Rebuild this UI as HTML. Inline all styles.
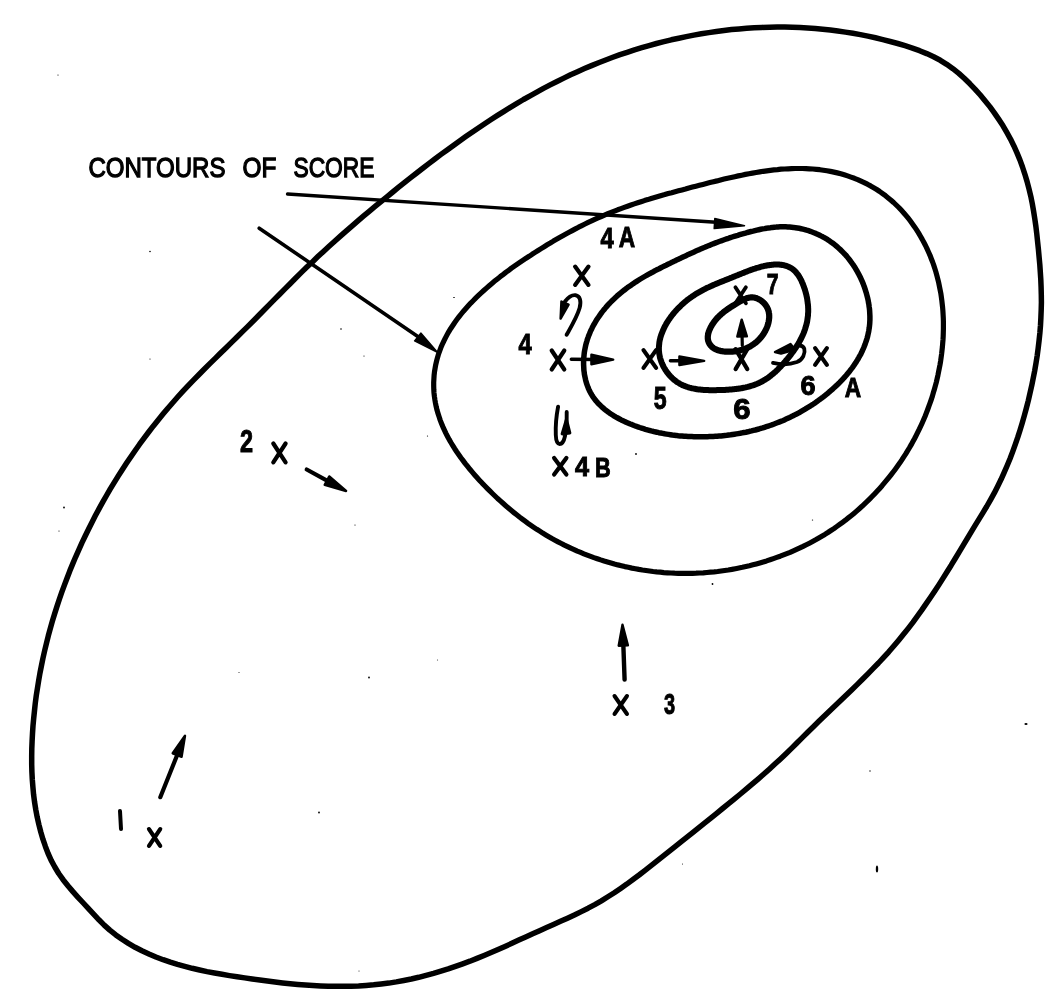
<!DOCTYPE html>
<html><head><meta charset="utf-8"><style>
html,body{margin:0;padding:0;background:#fff;width:1060px;height:1000px;overflow:hidden}
svg{display:block;will-change:transform}
text{font-family:"Liberation Sans",sans-serif;fill:#000}
</style></head><body>
<svg width="1060" height="1000" viewBox="0 0 1060 1000">
<rect width="1060" height="1000" fill="#fff"/>
<g fill="none" stroke="#000" stroke-linecap="round" stroke-linejoin="round">
<path d="M800.0,27.6 L807.6,28.0 L815.2,28.5 L822.7,29.2 L830.3,30.0 L837.8,31.0 L845.4,32.1 L852.9,33.3 L860.4,34.6 L867.9,36.1 L875.4,37.8 L882.8,39.6 L890.2,41.5 L897.7,43.5 L905.0,45.7 L912.4,48.1 L919.6,50.7 L926.7,53.6 L933.6,56.8 L940.3,60.3 L946.7,64.3 L952.9,68.7 L958.8,73.4 L964.5,78.5 L969.9,83.8 L975.2,89.3 L980.3,95.0 L985.2,100.9 L990.0,106.9 L994.5,113.1 L998.8,119.4 L1003.0,125.8 L1006.8,132.4 L1010.5,139.1 L1013.9,145.9 L1017.0,152.9 L1019.9,159.9 L1022.5,167.0 L1024.9,174.3 L1027.1,181.6 L1029.0,188.9 L1030.8,196.3 L1032.3,203.8 L1033.6,211.3 L1034.8,218.9 L1035.9,226.5 L1036.8,234.0 L1037.6,241.7 L1038.4,249.3 L1039.1,256.9 L1039.8,264.5 L1040.3,272.0 L1040.8,279.6 L1041.1,287.2 L1041.3,294.8 L1041.4,302.4 L1041.2,310.0 L1040.9,317.6 L1040.5,325.2 L1039.9,332.8 L1039.1,340.4 L1038.2,348.0 L1037.2,355.6 L1036.0,363.1 L1034.7,370.7 L1033.2,378.2 L1031.7,385.7 L1030.0,393.1 L1028.3,400.6 L1026.4,408.0 L1024.4,415.4 L1022.3,422.7 L1020.1,430.0 L1017.8,437.2 L1015.3,444.4 L1012.7,451.6 L1010.0,458.7 L1007.1,465.7 L1004.1,472.7 L1001.0,479.6 L997.6,486.4 L994.2,493.2 L990.5,499.9 L986.7,506.5 L982.7,513.1 L978.7,519.6 L974.7,526.1 L970.8,532.6 L966.9,539.2 L963.0,545.7 L959.1,552.2 L955.1,558.7 L951.2,565.2 L947.1,571.7 L943.1,578.1 L939.0,584.6 L934.8,591.0 L930.6,597.3 L926.2,603.6 L921.9,609.9 L917.4,616.1 L912.9,622.3 L908.3,628.3 L903.5,634.3 L898.7,640.2 L893.8,646.0 L888.8,651.8 L883.7,657.4 L878.5,663.0 L873.2,668.4 L867.9,673.9 L862.5,679.3 L857.1,684.6 L851.6,689.9 L846.1,695.2 L840.6,700.5 L835.1,705.7 L829.6,711.0 L824.1,716.3 L818.6,721.6 L813.1,726.9 L807.7,732.3 L802.3,737.6 L796.9,743.0 L791.5,748.4 L786.0,753.7 L780.5,758.9 L774.9,764.1 L769.3,769.2 L763.6,774.3 L757.8,779.3 L752.1,784.2 L746.2,789.2 L740.4,794.0 L734.5,798.9 L728.6,803.7 L722.6,808.5 L716.7,813.3 L710.8,818.1 L704.8,822.8 L698.9,827.6 L693.0,832.4 L687.0,837.1 L681.0,841.9 L675.1,846.6 L669.1,851.4 L663.1,856.1 L657.1,860.9 L651.1,865.6 L645.1,870.3 L639.1,875.0 L633.0,879.5 L626.8,884.1 L620.6,888.4 L614.3,892.7 L607.9,896.8 L601.4,900.8 L594.8,904.6 L588.1,908.2 L581.3,911.6 L574.4,915.0 L567.5,918.2 L560.5,921.3 L553.5,924.5 L546.6,927.5 L539.6,930.7 L532.7,933.8 L525.7,936.9 L518.8,940.1 L511.9,943.3 L505.0,946.4 L498.1,949.5 L491.1,952.5 L484.1,955.5 L477.0,958.4 L469.9,961.2 L462.7,963.8 L455.5,966.4 L448.2,968.9 L440.9,971.2 L433.5,973.4 L426.1,975.4 L418.7,977.3 L411.3,979.0 L403.8,980.5 L396.3,981.9 L388.8,983.1 L381.2,984.0 L373.7,984.8 L366.1,985.4 L358.6,985.9 L351.0,986.2 L343.4,986.3 L335.8,986.3 L328.2,986.2 L320.6,985.9 L313.0,985.5 L305.4,985.0 L297.8,984.4 L290.2,983.7 L282.6,982.9 L275.0,982.0 L267.4,981.1 L259.8,980.1 L252.2,979.0 L244.7,977.9 L237.1,976.8 L229.5,975.6 L222.0,974.3 L214.5,973.0 L207.0,971.6 L199.6,970.0 L192.2,968.3 L184.8,966.4 L177.5,964.4 L170.3,962.2 L163.1,959.7 L155.9,957.0 L148.9,954.0 L141.9,950.8 L135.1,947.3 L128.4,943.4 L122.0,939.3 L115.8,934.9 L109.8,930.1 L104.2,925.1 L98.9,919.8 L93.6,914.2 L88.5,908.6 L83.3,903.0 L78.0,897.3 L72.9,891.6 L67.9,885.7 L63.1,879.7 L58.7,873.5 L54.8,867.0 L51.2,860.4 L48.1,853.5 L45.4,846.4 L42.9,839.2 L40.8,832.0 L38.9,824.6 L37.2,817.2 L35.8,809.8 L34.6,802.3 L33.6,794.7 L32.9,787.1 L32.3,779.5 L31.9,771.8 L31.7,764.2 L31.7,756.5 L31.8,748.8 L32.1,741.2 L32.5,733.5 L33.0,725.8 L33.7,718.2 L34.5,710.6 L35.3,703.0 L36.3,695.4 L37.5,687.9 L38.7,680.4 L40.0,672.9 L41.5,665.4 L43.0,658.0 L44.7,650.5 L46.5,643.2 L48.3,635.8 L50.3,628.5 L52.4,621.1 L54.6,613.9 L56.9,606.6 L59.3,599.4 L61.8,592.2 L64.4,585.1 L67.1,578.0 L69.8,570.9 L72.7,563.9 L75.7,556.8 L78.8,549.9 L81.9,542.9 L85.2,536.0 L88.5,529.2 L91.9,522.4 L95.4,515.6 L99.0,508.9 L102.7,502.2 L106.5,495.5 L110.3,488.9 L114.3,482.4 L118.3,475.9 L122.4,469.5 L126.6,463.1 L130.9,456.7 L135.2,450.5 L139.6,444.2 L144.1,438.1 L148.7,432.0 L153.4,425.9 L158.2,420.0 L163.0,414.1 L167.9,408.2 L172.9,402.5 L177.9,396.8 L183.0,391.2 L188.2,385.6 L193.5,380.1 L198.8,374.7 L204.2,369.3 L209.6,363.9 L215.0,358.6 L220.4,353.2 L225.9,347.9 L231.3,342.6 L236.8,337.3 L242.2,331.9 L247.6,326.6 L253.0,321.2 L258.4,315.7 L263.8,310.3 L269.1,304.9 L274.5,299.4 L279.9,294.0 L285.2,288.6 L290.6,283.2 L296.0,277.8 L301.4,272.4 L306.9,267.1 L312.4,261.9 L317.9,256.6 L323.5,251.4 L329.1,246.3 L334.7,241.2 L340.4,236.1 L346.1,231.1 L351.9,226.1 L357.6,221.1 L363.4,216.2 L369.2,211.3 L375.1,206.4 L381.0,201.6 L386.9,196.8 L392.8,192.0 L398.7,187.2 L404.7,182.4 L410.7,177.7 L416.7,173.0 L422.8,168.3 L428.8,163.6 L434.9,159.0 L441.0,154.4 L447.2,149.9 L453.4,145.4 L459.6,141.0 L465.8,136.6 L472.1,132.2 L478.4,127.9 L484.7,123.7 L491.1,119.5 L497.5,115.4 L504.0,111.3 L510.4,107.3 L517.0,103.4 L523.5,99.5 L530.1,95.8 L536.8,92.1 L543.5,88.4 L550.2,84.9 L557.0,81.5 L563.8,78.1 L570.6,74.8 L577.5,71.7 L584.5,68.6 L591.5,65.6 L598.6,62.7 L605.7,60.0 L612.8,57.3 L620.0,54.7 L627.2,52.3 L634.5,49.9 L641.8,47.7 L649.1,45.6 L656.5,43.5 L663.9,41.6 L671.3,39.8 L678.8,38.2 L686.3,36.6 L693.8,35.1 L701.3,33.8 L708.8,32.6 L716.4,31.5 L724.0,30.5 L731.5,29.6 L739.1,28.9 L746.7,28.3 L754.3,27.8 L761.9,27.4 L769.6,27.2 L777.2,27.1 L784.8,27.1 L792.4,27.3 Z" stroke-width="5.5"/>
<path d="M532.1,254.3 L535.1,252.4 L538.1,250.5 L541.1,248.6 L544.2,246.7 L547.2,244.8 L550.3,243.0 L553.4,241.1 L556.5,239.3 L559.6,237.5 L562.8,235.7 L565.9,234.0 L569.1,232.3 L572.2,230.6 L575.4,228.9 L578.6,227.2 L581.8,225.6 L585.0,224.0 L588.2,222.4 L591.5,220.9 L594.7,219.4 L598.0,217.9 L601.2,216.5 L604.5,215.1 L607.8,213.7 L611.1,212.4 L614.4,211.1 L617.7,209.8 L621.0,208.6 L624.3,207.4 L627.6,206.2 L631.0,205.0 L634.3,203.9 L637.7,202.8 L641.0,201.7 L644.4,200.6 L647.8,199.6 L651.2,198.5 L654.6,197.5 L658.0,196.5 L661.4,195.5 L664.8,194.6 L668.2,193.6 L671.7,192.7 L675.1,191.7 L678.5,190.8 L682.0,189.9 L685.5,189.0 L688.9,188.0 L692.4,187.1 L695.9,186.2 L699.4,185.3 L702.9,184.4 L706.4,183.5 L709.9,182.6 L713.5,181.7 L717.0,180.9 L720.5,180.0 L724.1,179.1 L727.6,178.3 L731.2,177.5 L734.7,176.7 L738.3,175.9 L741.8,175.2 L745.4,174.4 L749.0,173.7 L752.5,173.1 L756.1,172.5 L759.7,171.9 L763.2,171.3 L766.8,170.8 L770.4,170.3 L773.9,169.9 L777.5,169.6 L781.0,169.2 L784.6,169.0 L788.2,168.8 L791.7,168.6 L795.2,168.5 L798.8,168.5 L802.3,168.5 L805.9,168.6 L809.4,168.8 L812.9,169.0 L816.4,169.3 L819.9,169.7 L823.4,170.2 L826.9,170.8 L830.4,171.4 L833.9,172.1 L837.3,172.9 L840.8,173.8 L844.2,174.8 L847.6,175.9 L851.0,177.1 L854.4,178.3 L857.7,179.6 L861.0,181.1 L864.2,182.6 L867.4,184.2 L870.6,185.9 L873.7,187.7 L876.7,189.5 L879.7,191.5 L882.6,193.6 L885.5,195.7 L888.2,197.9 L891.0,200.2 L893.6,202.5 L896.2,205.0 L898.8,207.5 L901.2,210.1 L903.6,212.7 L905.9,215.4 L908.2,218.2 L910.4,221.0 L912.5,223.9 L914.6,226.9 L916.6,229.9 L918.5,232.9 L920.3,236.0 L922.1,239.1 L923.8,242.3 L925.5,245.5 L927.0,248.7 L928.5,252.0 L930.0,255.3 L931.3,258.7 L932.6,262.0 L933.8,265.4 L934.9,268.8 L936.0,272.3 L936.9,275.7 L937.8,279.2 L938.7,282.7 L939.4,286.2 L940.1,289.7 L940.8,293.2 L941.3,296.7 L941.8,300.3 L942.2,303.9 L942.6,307.4 L942.9,311.0 L943.1,314.6 L943.3,318.2 L943.4,321.7 L943.4,325.3 L943.4,328.9 L943.3,332.5 L943.2,336.1 L943.0,339.7 L942.7,343.3 L942.4,346.9 L942.0,350.5 L941.6,354.0 L941.1,357.6 L940.6,361.2 L940.0,364.7 L939.3,368.3 L938.6,371.8 L937.9,375.3 L937.1,378.8 L936.3,382.3 L935.4,385.7 L934.4,389.2 L933.4,392.6 L932.4,396.1 L931.3,399.5 L930.1,402.8 L928.9,406.2 L927.7,409.5 L926.4,412.9 L925.1,416.2 L923.7,419.5 L922.3,422.7 L920.8,426.0 L919.3,429.2 L917.7,432.4 L916.1,435.6 L914.5,438.7 L912.8,441.8 L911.1,444.9 L909.3,448.0 L907.4,451.1 L905.6,454.1 L903.6,457.1 L901.7,460.1 L899.7,463.1 L897.6,466.0 L895.5,468.9 L893.4,471.7 L891.2,474.6 L889.0,477.4 L886.7,480.2 L884.4,482.9 L882.1,485.7 L879.7,488.4 L877.3,491.0 L874.8,493.7 L872.3,496.3 L869.8,498.8 L867.2,501.3 L864.6,503.8 L862.0,506.3 L859.3,508.7 L856.6,511.1 L853.9,513.4 L851.1,515.7 L848.3,517.9 L845.5,520.2 L842.6,522.3 L839.7,524.4 L836.8,526.5 L833.9,528.6 L830.9,530.5 L827.9,532.5 L824.9,534.4 L821.8,536.2 L818.8,538.0 L815.7,539.8 L812.6,541.5 L809.4,543.2 L806.3,544.8 L803.1,546.4 L799.9,547.9 L796.6,549.4 L793.4,550.8 L790.1,552.3 L786.8,553.6 L783.5,554.9 L780.2,556.2 L776.8,557.4 L773.4,558.6 L770.0,559.8 L766.6,560.9 L763.2,561.9 L759.8,562.9 L756.3,563.9 L752.9,564.8 L749.4,565.7 L745.9,566.5 L742.4,567.3 L738.9,568.0 L735.4,568.7 L731.8,569.4 L728.3,570.0 L724.7,570.5 L721.2,571.0 L717.6,571.5 L714.1,571.9 L710.5,572.2 L706.9,572.5 L703.3,572.8 L699.7,573.0 L696.1,573.2 L692.6,573.3 L689.0,573.4 L685.4,573.4 L681.8,573.4 L678.2,573.3 L674.6,573.2 L671.0,573.0 L667.4,572.8 L663.8,572.6 L660.3,572.2 L656.7,571.9 L653.1,571.5 L649.5,571.0 L646.0,570.5 L642.4,570.0 L638.9,569.4 L635.4,568.7 L631.9,568.1 L628.3,567.3 L624.8,566.6 L621.4,565.7 L617.9,564.9 L614.4,564.0 L611.0,563.0 L607.5,562.0 L604.1,561.0 L600.7,559.9 L597.3,558.7 L593.9,557.6 L590.6,556.4 L587.2,555.1 L583.9,553.8 L580.6,552.4 L577.3,551.1 L574.1,549.6 L570.8,548.2 L567.6,546.6 L564.4,545.1 L561.3,543.5 L558.1,541.9 L555.0,540.2 L551.9,538.5 L548.8,536.7 L545.8,534.9 L542.7,533.1 L539.8,531.2 L536.8,529.3 L533.8,527.3 L530.9,525.3 L528.0,523.3 L525.1,521.2 L522.3,519.1 L519.5,517.0 L516.7,514.8 L513.9,512.6 L511.1,510.3 L508.4,508.0 L505.7,505.7 L503.0,503.3 L500.3,500.9 L497.6,498.5 L495.0,496.0 L492.4,493.5 L489.8,490.9 L487.2,488.3 L484.7,485.7 L482.1,483.1 L479.6,480.4 L477.2,477.7 L474.7,474.9 L472.3,472.1 L469.9,469.3 L467.6,466.4 L465.3,463.6 L463.1,460.6 L460.9,457.7 L458.8,454.7 L456.7,451.7 L454.7,448.7 L452.8,445.6 L450.9,442.5 L449.1,439.4 L447.4,436.2 L445.8,433.1 L444.3,429.9 L442.8,426.6 L441.5,423.4 L440.2,420.1 L439.1,416.8 L438.0,413.4 L437.0,410.1 L436.2,406.7 L435.5,403.3 L434.9,399.9 L434.4,396.4 L434.0,393.0 L433.8,389.5 L433.7,386.0 L433.7,382.4 L433.9,378.9 L434.1,375.4 L434.5,371.8 L435.1,368.3 L435.7,364.8 L436.5,361.4 L437.4,357.9 L438.4,354.5 L439.6,351.1 L440.8,347.8 L442.2,344.5 L443.7,341.3 L445.3,338.1 L447.0,334.9 L448.7,331.8 L450.6,328.7 L452.6,325.7 L454.6,322.7 L456.7,319.8 L458.9,316.9 L461.2,314.0 L463.5,311.2 L465.9,308.5 L468.3,305.8 L470.8,303.1 L473.4,300.5 L475.9,297.9 L478.5,295.4 L481.2,292.9 L483.8,290.5 L486.5,288.1 L489.2,285.7 L491.9,283.4 L494.7,281.1 L497.4,278.9 L500.2,276.7 L503.0,274.6 L505.8,272.4 L508.7,270.3 L511.5,268.2 L514.4,266.2 L517.3,264.2 L520.2,262.2 L523.2,260.2 L526.1,258.2 L529.1,256.3 Z" stroke-width="5.2"/>
<path d="M710.2,245.1 L712.0,244.3 L713.8,243.6 L715.6,242.9 L717.4,242.2 L719.2,241.5 L721.1,240.9 L722.9,240.2 L724.8,239.5 L726.6,238.9 L728.5,238.3 L730.3,237.6 L732.2,237.0 L734.1,236.4 L736.0,235.8 L737.8,235.3 L739.7,234.7 L741.6,234.1 L743.5,233.6 L745.4,233.1 L747.3,232.5 L749.2,232.0 L751.1,231.5 L753.0,231.1 L755.0,230.6 L756.9,230.1 L758.8,229.7 L760.7,229.3 L762.7,228.9 L764.6,228.6 L766.5,228.2 L768.5,227.9 L770.4,227.7 L772.3,227.4 L774.3,227.2 L776.2,227.1 L778.1,226.9 L780.0,226.8 L782.0,226.8 L783.9,226.8 L785.8,226.8 L787.8,226.9 L789.7,227.0 L791.6,227.2 L793.5,227.4 L795.4,227.7 L797.3,228.0 L799.2,228.3 L801.1,228.7 L802.9,229.1 L804.8,229.6 L806.7,230.2 L808.5,230.7 L810.3,231.3 L812.1,232.0 L813.9,232.7 L815.7,233.4 L817.5,234.2 L819.2,235.0 L820.9,235.9 L822.7,236.8 L824.3,237.7 L826.0,238.7 L827.7,239.7 L829.3,240.8 L830.9,241.9 L832.5,243.0 L834.0,244.2 L835.5,245.4 L837.0,246.7 L838.5,248.0 L840.0,249.3 L841.4,250.7 L842.8,252.1 L844.1,253.5 L845.5,254.9 L846.8,256.4 L848.0,257.9 L849.3,259.5 L850.5,261.1 L851.6,262.7 L852.8,264.3 L853.9,265.9 L855.0,267.6 L856.0,269.3 L857.0,271.0 L858.0,272.8 L858.9,274.5 L859.8,276.3 L860.7,278.1 L861.5,279.9 L862.3,281.7 L863.1,283.6 L863.8,285.4 L864.5,287.3 L865.1,289.2 L865.7,291.1 L866.3,293.0 L866.8,294.9 L867.3,296.8 L867.8,298.7 L868.2,300.6 L868.5,302.6 L868.9,304.5 L869.1,306.4 L869.4,308.4 L869.6,310.3 L869.7,312.2 L869.8,314.2 L869.9,316.1 L869.9,318.0 L869.9,319.9 L869.8,321.8 L869.7,323.8 L869.5,325.7 L869.3,327.5 L869.0,329.4 L868.7,331.3 L868.3,333.1 L867.9,335.0 L867.5,336.8 L867.0,338.6 L866.4,340.5 L865.8,342.2 L865.2,344.0 L864.5,345.8 L863.8,347.6 L863.0,349.3 L862.3,351.0 L861.4,352.8 L860.6,354.5 L859.6,356.1 L858.7,357.8 L857.7,359.5 L856.7,361.1 L855.7,362.8 L854.6,364.4 L853.5,366.0 L852.4,367.6 L851.2,369.1 L850.0,370.7 L848.8,372.2 L847.5,373.8 L846.3,375.3 L845.0,376.8 L843.6,378.2 L842.3,379.7 L840.9,381.1 L839.5,382.6 L838.1,384.0 L836.7,385.4 L835.2,386.7 L833.7,388.1 L832.3,389.4 L830.8,390.7 L829.2,392.0 L827.7,393.3 L826.1,394.6 L824.6,395.8 L823.0,397.1 L821.4,398.3 L819.8,399.4 L818.2,400.6 L816.6,401.8 L815.0,402.9 L813.4,404.0 L811.7,405.1 L810.1,406.2 L808.4,407.2 L806.7,408.2 L805.1,409.2 L803.4,410.2 L801.7,411.2 L800.0,412.2 L798.3,413.1 L796.6,414.0 L794.8,414.9 L793.1,415.8 L791.4,416.6 L789.6,417.5 L787.9,418.3 L786.1,419.1 L784.4,419.9 L782.6,420.7 L780.8,421.4 L779.0,422.1 L777.2,422.8 L775.4,423.5 L773.6,424.2 L771.8,424.9 L770.0,425.5 L768.2,426.1 L766.3,426.7 L764.5,427.3 L762.7,427.9 L760.8,428.4 L759.0,429.0 L757.1,429.5 L755.3,430.0 L753.4,430.4 L751.5,430.9 L749.6,431.3 L747.8,431.8 L745.9,432.2 L744.0,432.5 L742.1,432.9 L740.2,433.3 L738.3,433.6 L736.4,433.9 L734.5,434.2 L732.6,434.5 L730.7,434.8 L728.8,435.0 L726.8,435.3 L724.9,435.5 L723.0,435.7 L721.1,435.9 L719.1,436.0 L717.2,436.2 L715.3,436.3 L713.3,436.4 L711.4,436.5 L709.4,436.6 L707.5,436.7 L705.5,436.7 L703.6,436.8 L701.6,436.8 L699.7,436.8 L697.7,436.8 L695.8,436.7 L693.8,436.7 L691.9,436.6 L689.9,436.5 L688.0,436.4 L686.0,436.3 L684.1,436.2 L682.1,436.0 L680.1,435.9 L678.2,435.7 L676.2,435.4 L674.3,435.2 L672.3,435.0 L670.4,434.7 L668.5,434.4 L666.5,434.1 L664.6,433.8 L662.6,433.4 L660.7,433.0 L658.8,432.7 L656.8,432.2 L654.9,431.8 L653.0,431.3 L651.1,430.9 L649.2,430.3 L647.3,429.8 L645.4,429.3 L643.5,428.7 L641.6,428.1 L639.7,427.5 L637.8,426.8 L635.9,426.2 L634.1,425.5 L632.2,424.7 L630.3,424.0 L628.5,423.2 L626.7,422.4 L624.8,421.6 L623.0,420.7 L621.2,419.9 L619.5,419.0 L617.7,418.0 L616.0,417.1 L614.3,416.1 L612.6,415.0 L611.0,414.0 L609.4,412.9 L607.8,411.7 L606.2,410.6 L604.7,409.4 L603.3,408.2 L601.8,406.9 L600.5,405.6 L599.1,404.3 L597.8,402.9 L596.6,401.5 L595.4,400.1 L594.3,398.6 L593.2,397.1 L592.1,395.5 L591.2,393.9 L590.3,392.3 L589.4,390.6 L588.6,388.9 L587.9,387.1 L587.3,385.4 L586.6,383.6 L586.1,381.7 L585.6,379.9 L585.2,378.0 L584.8,376.1 L584.4,374.2 L584.2,372.3 L583.9,370.3 L583.8,368.4 L583.7,366.4 L583.6,364.5 L583.6,362.5 L583.6,360.5 L583.7,358.5 L583.9,356.6 L584.1,354.6 L584.3,352.6 L584.6,350.7 L585.0,348.8 L585.4,346.8 L585.8,344.9 L586.3,343.0 L586.9,341.1 L587.4,339.3 L588.1,337.4 L588.7,335.6 L589.5,333.8 L590.2,332.0 L591.0,330.2 L591.9,328.4 L592.7,326.7 L593.6,325.0 L594.6,323.3 L595.6,321.6 L596.6,319.9 L597.7,318.3 L598.8,316.7 L599.9,315.1 L601.0,313.5 L602.2,311.9 L603.4,310.4 L604.7,308.9 L605.9,307.4 L607.2,305.9 L608.5,304.4 L609.9,303.0 L611.2,301.6 L612.6,300.2 L614.0,298.9 L615.5,297.5 L616.9,296.2 L618.4,294.9 L619.9,293.6 L621.4,292.4 L622.9,291.2 L624.4,290.0 L625.9,288.8 L627.5,287.6 L629.1,286.5 L630.7,285.4 L632.3,284.3 L633.9,283.2 L635.5,282.1 L637.1,281.1 L638.8,280.0 L640.4,279.0 L642.1,278.0 L643.8,277.0 L645.5,276.0 L647.1,275.1 L648.8,274.1 L650.5,273.2 L652.3,272.3 L654.0,271.3 L655.7,270.4 L657.4,269.5 L659.2,268.7 L660.9,267.8 L662.6,266.9 L664.4,266.0 L666.1,265.2 L667.9,264.3 L669.6,263.5 L671.4,262.6 L673.1,261.8 L674.9,260.9 L676.6,260.1 L678.4,259.3 L680.1,258.4 L681.9,257.6 L683.6,256.8 L685.4,256.0 L687.1,255.1 L688.9,254.3 L690.6,253.5 L692.4,252.7 L694.1,251.9 L695.9,251.1 L697.7,250.3 L699.4,249.6 L701.2,248.8 L703.0,248.0 L704.8,247.3 L706.6,246.5 L708.4,245.8 Z" stroke-width="5.5"/>
<path d="M734.0,276.6 L735.0,276.2 L736.0,275.8 L737.1,275.4 L738.1,275.0 L739.1,274.5 L740.2,274.1 L741.2,273.7 L742.3,273.3 L743.3,272.9 L744.4,272.4 L745.4,272.0 L746.5,271.6 L747.5,271.2 L748.6,270.8 L749.7,270.4 L750.7,270.0 L751.8,269.7 L752.8,269.3 L753.9,268.9 L755.0,268.6 L756.0,268.2 L757.1,267.9 L758.2,267.6 L759.2,267.3 L760.3,267.0 L761.3,266.7 L762.4,266.4 L763.5,266.2 L764.5,265.9 L765.6,265.7 L766.7,265.5 L767.7,265.3 L768.8,265.2 L769.8,265.0 L770.9,264.9 L771.9,264.8 L773.0,264.7 L774.0,264.6 L775.1,264.6 L776.1,264.6 L777.2,264.6 L778.2,264.6 L779.2,264.6 L780.2,264.7 L781.2,264.8 L782.2,265.0 L783.2,265.1 L784.2,265.3 L785.2,265.6 L786.1,265.9 L787.0,266.2 L787.9,266.5 L788.8,266.9 L789.7,267.3 L790.6,267.8 L791.4,268.3 L792.2,268.8 L793.0,269.4 L793.7,270.0 L794.5,270.7 L795.2,271.4 L795.9,272.1 L796.5,272.9 L797.2,273.7 L797.8,274.5 L798.4,275.4 L799.0,276.2 L799.5,277.2 L800.1,278.1 L800.6,279.1 L801.1,280.0 L801.6,281.0 L802.0,282.1 L802.5,283.1 L802.9,284.1 L803.3,285.2 L803.7,286.3 L804.1,287.4 L804.5,288.5 L804.9,289.6 L805.2,290.7 L805.5,291.8 L805.8,292.9 L806.1,294.0 L806.4,295.1 L806.6,296.3 L806.9,297.4 L807.1,298.5 L807.3,299.7 L807.4,300.8 L807.6,301.9 L807.7,303.1 L807.9,304.2 L808.0,305.3 L808.1,306.5 L808.1,307.6 L808.2,308.7 L808.2,309.8 L808.2,310.9 L808.2,312.0 L808.1,313.1 L808.0,314.2 L808.0,315.3 L807.9,316.3 L807.7,317.4 L807.6,318.4 L807.4,319.5 L807.3,320.5 L807.1,321.6 L806.9,322.6 L806.6,323.6 L806.4,324.7 L806.1,325.7 L805.8,326.7 L805.5,327.7 L805.2,328.7 L804.9,329.7 L804.5,330.6 L804.2,331.6 L803.8,332.6 L803.4,333.6 L803.0,334.5 L802.6,335.5 L802.1,336.4 L801.7,337.4 L801.2,338.3 L800.7,339.3 L800.2,340.2 L799.7,341.1 L799.2,342.1 L798.7,343.0 L798.2,343.9 L797.6,344.8 L797.0,345.7 L796.5,346.6 L795.9,347.5 L795.3,348.4 L794.7,349.3 L794.1,350.2 L793.5,351.1 L792.8,352.0 L792.2,352.8 L791.5,353.7 L790.9,354.6 L790.2,355.4 L789.5,356.3 L788.8,357.2 L788.1,358.0 L787.4,358.9 L786.7,359.7 L786.0,360.6 L785.3,361.4 L784.6,362.2 L783.9,363.1 L783.1,363.9 L782.4,364.7 L781.6,365.5 L780.9,366.3 L780.1,367.1 L779.3,367.9 L778.5,368.7 L777.8,369.5 L777.0,370.3 L776.2,371.0 L775.4,371.8 L774.5,372.5 L773.7,373.2 L772.9,373.9 L772.0,374.6 L771.2,375.3 L770.4,376.0 L769.5,376.6 L768.6,377.3 L767.8,377.9 L766.9,378.5 L766.0,379.1 L765.1,379.7 L764.2,380.2 L763.3,380.7 L762.4,381.3 L761.4,381.8 L760.5,382.2 L759.6,382.7 L758.6,383.1 L757.6,383.6 L756.7,384.0 L755.7,384.3 L754.7,384.7 L753.7,385.1 L752.8,385.4 L751.8,385.7 L750.8,386.0 L749.7,386.3 L748.7,386.6 L747.7,386.9 L746.7,387.1 L745.6,387.4 L744.6,387.6 L743.6,387.8 L742.5,388.0 L741.5,388.2 L740.4,388.4 L739.3,388.5 L738.3,388.7 L737.2,388.8 L736.1,389.0 L735.0,389.1 L733.9,389.2 L732.8,389.3 L731.7,389.4 L730.6,389.5 L729.5,389.6 L728.4,389.7 L727.3,389.7 L726.2,389.8 L725.1,389.9 L724.0,389.9 L722.8,390.0 L721.7,390.0 L720.6,390.0 L719.5,390.1 L718.3,390.1 L717.2,390.1 L716.0,390.2 L714.9,390.2 L713.8,390.2 L712.6,390.2 L711.5,390.2 L710.4,390.2 L709.2,390.2 L708.1,390.1 L706.9,390.1 L705.8,390.1 L704.7,390.0 L703.6,389.9 L702.4,389.8 L701.3,389.7 L700.2,389.6 L699.1,389.5 L698.0,389.4 L696.9,389.2 L695.8,389.0 L694.7,388.8 L693.7,388.6 L692.6,388.4 L691.5,388.2 L690.5,387.9 L689.4,387.6 L688.4,387.3 L687.4,387.0 L686.4,386.7 L685.4,386.3 L684.4,385.9 L683.4,385.5 L682.4,385.1 L681.5,384.6 L680.5,384.1 L679.6,383.6 L678.7,383.0 L677.8,382.5 L676.9,381.9 L676.0,381.3 L675.2,380.6 L674.3,380.0 L673.5,379.3 L672.7,378.5 L671.9,377.8 L671.2,377.0 L670.4,376.3 L669.7,375.5 L669.0,374.7 L668.3,373.8 L667.6,373.0 L666.9,372.1 L666.3,371.2 L665.7,370.3 L665.1,369.4 L664.6,368.5 L664.0,367.5 L663.5,366.6 L663.0,365.6 L662.6,364.6 L662.1,363.6 L661.7,362.7 L661.3,361.7 L661.0,360.6 L660.6,359.6 L660.3,358.6 L660.0,357.6 L659.8,356.5 L659.6,355.5 L659.4,354.5 L659.2,353.4 L659.1,352.4 L659.0,351.4 L658.9,350.3 L658.9,349.3 L658.9,348.2 L658.9,347.2 L659.0,346.2 L659.1,345.1 L659.2,344.1 L659.3,343.0 L659.4,342.0 L659.6,341.0 L659.8,339.9 L660.1,338.9 L660.3,337.9 L660.6,336.8 L660.9,335.8 L661.2,334.8 L661.6,333.8 L662.0,332.8 L662.4,331.8 L662.8,330.8 L663.2,329.8 L663.7,328.8 L664.1,327.8 L664.6,326.8 L665.1,325.8 L665.7,324.9 L666.2,323.9 L666.8,322.9 L667.4,322.0 L668.0,321.0 L668.6,320.1 L669.2,319.2 L669.9,318.2 L670.5,317.3 L671.2,316.4 L671.9,315.5 L672.6,314.6 L673.3,313.8 L674.0,312.9 L674.7,312.0 L675.5,311.2 L676.2,310.3 L677.0,309.5 L677.8,308.7 L678.6,307.9 L679.4,307.1 L680.2,306.3 L681.0,305.5 L681.8,304.7 L682.6,304.0 L683.5,303.2 L684.3,302.5 L685.1,301.8 L686.0,301.1 L686.8,300.4 L687.7,299.7 L688.6,299.1 L689.4,298.4 L690.3,297.8 L691.2,297.2 L692.0,296.6 L692.9,296.0 L693.8,295.4 L694.7,294.8 L695.6,294.2 L696.5,293.7 L697.4,293.1 L698.3,292.6 L699.2,292.1 L700.1,291.6 L701.0,291.1 L701.9,290.6 L702.8,290.1 L703.7,289.6 L704.7,289.1 L705.6,288.7 L706.5,288.2 L707.4,287.7 L708.4,287.3 L709.3,286.9 L710.3,286.4 L711.2,286.0 L712.2,285.6 L713.1,285.1 L714.1,284.7 L715.1,284.3 L716.0,283.9 L717.0,283.5 L718.0,283.1 L718.9,282.7 L719.9,282.3 L720.9,281.9 L721.9,281.5 L722.9,281.1 L723.9,280.7 L724.9,280.3 L725.9,279.9 L726.9,279.5 L727.9,279.1 L728.9,278.7 L729.9,278.3 L730.9,277.9 L731.9,277.5 L733.0,277.0 Z" stroke-width="6"/>
<path d="M751.8,297.4 L752.2,297.4 L752.6,297.4 L753.0,297.4 L753.4,297.5 L753.9,297.5 L754.3,297.6 L754.7,297.7 L755.1,297.8 L755.5,297.9 L755.9,298.0 L756.3,298.1 L756.7,298.3 L757.1,298.4 L757.5,298.6 L757.9,298.8 L758.3,299.0 L758.7,299.2 L759.1,299.4 L759.5,299.6 L759.9,299.8 L760.2,300.0 L760.6,300.3 L761.0,300.5 L761.3,300.8 L761.7,301.1 L762.0,301.3 L762.4,301.6 L762.7,301.9 L763.0,302.2 L763.4,302.5 L763.7,302.8 L764.0,303.2 L764.3,303.5 L764.6,303.8 L764.9,304.2 L765.2,304.5 L765.4,304.9 L765.7,305.2 L766.0,305.6 L766.2,306.0 L766.5,306.4 L766.7,306.7 L766.9,307.1 L767.1,307.5 L767.3,307.9 L767.5,308.3 L767.7,308.7 L767.9,309.1 L768.0,309.5 L768.2,310.0 L768.3,310.4 L768.4,310.8 L768.6,311.2 L768.7,311.6 L768.8,312.1 L768.8,312.5 L768.9,312.9 L769.0,313.4 L769.1,313.8 L769.1,314.3 L769.1,314.7 L769.2,315.1 L769.2,315.6 L769.2,316.0 L769.2,316.5 L769.2,316.9 L769.2,317.4 L769.2,317.8 L769.1,318.3 L769.1,318.7 L769.0,319.2 L769.0,319.6 L768.9,320.1 L768.9,320.5 L768.8,321.0 L768.7,321.5 L768.6,321.9 L768.5,322.4 L768.4,322.8 L768.3,323.3 L768.2,323.7 L768.0,324.2 L767.9,324.6 L767.8,325.0 L767.6,325.5 L767.5,325.9 L767.3,326.4 L767.1,326.8 L767.0,327.2 L766.8,327.7 L766.6,328.1 L766.4,328.5 L766.2,329.0 L766.0,329.4 L765.8,329.8 L765.6,330.2 L765.4,330.6 L765.2,331.0 L765.0,331.5 L764.7,331.9 L764.5,332.3 L764.3,332.7 L764.0,333.0 L763.8,333.4 L763.6,333.8 L763.3,334.2 L763.1,334.6 L762.8,335.0 L762.5,335.3 L762.3,335.7 L762.0,336.0 L761.7,336.4 L761.4,336.8 L761.2,337.1 L760.9,337.5 L760.6,337.8 L760.3,338.1 L760.0,338.5 L759.7,338.8 L759.4,339.1 L759.1,339.5 L758.8,339.8 L758.5,340.1 L758.2,340.4 L757.8,340.7 L757.5,341.0 L757.2,341.3 L756.9,341.6 L756.5,341.9 L756.2,342.2 L755.8,342.5 L755.5,342.7 L755.2,343.0 L754.8,343.3 L754.5,343.6 L754.1,343.8 L753.7,344.1 L753.4,344.3 L753.0,344.6 L752.6,344.8 L752.3,345.1 L751.9,345.3 L751.5,345.5 L751.1,345.8 L750.8,346.0 L750.4,346.2 L750.0,346.4 L749.6,346.7 L749.2,346.9 L748.8,347.1 L748.4,347.3 L748.0,347.5 L747.6,347.7 L747.2,347.8 L746.8,348.0 L746.4,348.2 L746.0,348.4 L745.6,348.6 L745.2,348.7 L744.7,348.9 L744.3,349.0 L743.9,349.2 L743.5,349.3 L743.0,349.5 L742.6,349.6 L742.2,349.8 L741.7,349.9 L741.3,350.0 L740.9,350.1 L740.4,350.3 L740.0,350.4 L739.5,350.5 L739.1,350.6 L738.7,350.7 L738.2,350.8 L737.8,350.9 L737.3,351.0 L736.8,351.0 L736.4,351.1 L735.9,351.2 L735.5,351.3 L735.0,351.3 L734.6,351.4 L734.1,351.4 L733.6,351.5 L733.2,351.5 L732.7,351.6 L732.2,351.6 L731.8,351.6 L731.3,351.7 L730.8,351.7 L730.3,351.7 L729.9,351.7 L729.4,351.7 L728.9,351.7 L728.4,351.7 L728.0,351.7 L727.5,351.7 L727.0,351.7 L726.5,351.7 L726.0,351.6 L725.6,351.6 L725.1,351.6 L724.6,351.5 L724.1,351.5 L723.7,351.4 L723.2,351.4 L722.7,351.3 L722.2,351.2 L721.8,351.1 L721.3,351.1 L720.8,351.0 L720.4,350.9 L719.9,350.8 L719.5,350.6 L719.0,350.5 L718.6,350.4 L718.2,350.3 L717.7,350.1 L717.3,350.0 L716.9,349.8 L716.5,349.6 L716.1,349.5 L715.7,349.3 L715.3,349.1 L714.9,348.9 L714.5,348.7 L714.2,348.4 L713.8,348.2 L713.4,348.0 L713.1,347.7 L712.8,347.5 L712.4,347.2 L712.1,346.9 L711.8,346.7 L711.5,346.4 L711.2,346.1 L711.0,345.8 L710.7,345.5 L710.4,345.2 L710.2,344.8 L710.0,344.5 L709.7,344.2 L709.5,343.8 L709.3,343.5 L709.1,343.1 L709.0,342.8 L708.8,342.4 L708.6,342.0 L708.5,341.7 L708.4,341.3 L708.2,340.9 L708.1,340.5 L708.1,340.2 L708.0,339.8 L707.9,339.4 L707.9,339.0 L707.8,338.6 L707.8,338.2 L707.8,337.8 L707.8,337.4 L707.8,336.9 L707.8,336.5 L707.9,336.1 L707.9,335.7 L708.0,335.3 L708.0,334.9 L708.1,334.5 L708.2,334.0 L708.3,333.6 L708.4,333.2 L708.5,332.8 L708.6,332.3 L708.7,331.9 L708.9,331.5 L709.0,331.1 L709.2,330.6 L709.4,330.2 L709.5,329.8 L709.7,329.4 L709.9,329.0 L710.1,328.5 L710.3,328.1 L710.5,327.7 L710.7,327.3 L710.9,326.9 L711.1,326.5 L711.4,326.1 L711.6,325.7 L711.9,325.2 L712.1,324.8 L712.4,324.4 L712.6,324.0 L712.9,323.7 L713.1,323.3 L713.4,322.9 L713.7,322.5 L713.9,322.1 L714.2,321.7 L714.5,321.4 L714.8,321.0 L715.1,320.6 L715.3,320.3 L715.6,319.9 L715.9,319.6 L716.2,319.2 L716.5,318.9 L716.8,318.5 L717.1,318.2 L717.4,317.9 L717.7,317.5 L718.1,317.2 L718.4,316.9 L718.7,316.6 L719.0,316.2 L719.3,315.9 L719.6,315.6 L720.0,315.3 L720.3,315.0 L720.6,314.7 L721.0,314.4 L721.3,314.1 L721.6,313.8 L722.0,313.5 L722.3,313.2 L722.7,312.9 L723.0,312.7 L723.3,312.4 L723.7,312.1 L724.0,311.8 L724.4,311.5 L724.8,311.3 L725.1,311.0 L725.5,310.7 L725.8,310.5 L726.2,310.2 L726.6,309.9 L726.9,309.7 L727.3,309.4 L727.7,309.1 L728.0,308.9 L728.4,308.6 L728.8,308.4 L729.2,308.1 L729.5,307.9 L729.9,307.6 L730.3,307.4 L730.7,307.1 L731.1,306.9 L731.4,306.6 L731.8,306.4 L732.2,306.1 L732.6,305.9 L733.0,305.6 L733.4,305.4 L733.8,305.2 L734.2,304.9 L734.6,304.7 L734.9,304.4 L735.3,304.2 L735.7,304.0 L736.1,303.7 L736.5,303.5 L736.9,303.2 L737.3,303.0 L737.7,302.8 L738.1,302.5 L738.5,302.3 L739.0,302.0 L739.4,301.8 L739.8,301.6 L740.2,301.3 L740.6,301.1 L741.0,300.9 L741.4,300.7 L741.8,300.5 L742.2,300.2 L742.6,300.0 L743.0,299.8 L743.4,299.6 L743.9,299.4 L744.3,299.2 L744.7,299.1 L745.1,298.9 L745.5,298.7 L745.9,298.6 L746.3,298.4 L746.8,298.3 L747.2,298.1 L747.6,298.0 L748.0,297.9 L748.4,297.8 L748.8,297.7 L749.3,297.6 L749.7,297.6 L750.1,297.5 L750.5,297.4 L750.9,297.4 L751.4,297.4 Z" stroke-width="6.2"/>
<path d="M287.5,194 L720,222.5" stroke-width="3.4"/>
<path d="M744.5,225.7 L714.2,228.6 L714.8,218.6 Z" fill="#000" stroke-width="1.5"/>
<path d="M259.2,228.2 L420,338" stroke-width="3.6"/>
<path d="M437.4,352.3 L414.6,340.9 L420.8,333.1 Z" fill="#000" stroke-width="1.5"/>
<path d="M575.1,266.6 L588.5,284.9 M588.5,266.6 L575.1,284.9" stroke-width="4.2"/>
<path d="M551.7,350.5 L564.3,369.5 M564.3,350.5 L551.7,369.5" stroke-width="4.2"/>
<path d="M643.5,350.1 L656.1,367.9 M656.1,350.1 L643.5,367.9" stroke-width="4.2"/>
<path d="M735.6,349.1 L747.3,369.1 M747.3,349.1 L735.6,369.1" stroke-width="4.2"/>
<path d="M735.4,287.3 L745.9,303.3 M745.9,287.3 L735.4,303.3" stroke-width="3.8"/>
<path d="M815.1,348.1 L826.9,364.9 M826.9,348.1 L815.1,364.9" stroke-width="4.2"/>
<path d="M554.1,457.9 L566.4,474.6 M566.4,457.9 L554.1,474.6" stroke-width="4.2"/>
<path d="M273.3,443.5 L285.6,462.4 M285.6,443.5 L273.3,462.4" stroke-width="4.2"/>
<path d="M149.0,829.1 L160.2,845.9 M160.2,829.1 L149.0,845.9" stroke-width="4.2"/>
<path d="M614.6,696.1 L626.9,713.9 M626.9,696.1 L614.6,713.9" stroke-width="4.2"/>
<path d="M571.3,359.3 L596.0,359.5" stroke-width="3.4"/><path d="M613.2,359.7 L591.4,364.3 L591.4,354.7 Z" fill="#000" stroke-width="2.4"/>
<path d="M670.4,360.7 L684.6,360.8" stroke-width="3.4"/><path d="M704.2,360.9 L679.4,365.1 L679.4,356.5 Z" fill="#000" stroke-width="2.4"/>
<path d="M742.3,345.4 L742.0,332.8" stroke-width="3.2"/><path d="M741.7,319.6 L746.9,336.3 L737.3,336.5 Z" fill="#000" stroke-width="2.4"/>
<path d="M306.7,469.5 L331.1,482.8" stroke-width="4.2"/><path d="M346.1,491.0 L324.7,484.8 L329.3,476.4 Z" fill="#000" stroke-width="2.4"/>
<path d="M160.3,797.2 L178.8,751.0" stroke-width="4.2"/><path d="M185.0,735.8 L181.6,756.9 L172.7,753.3 Z" fill="#000" stroke-width="2.4"/>
<path d="M624.6,679.6 L623.2,641.2" stroke-width="4.4"/><path d="M622.5,624.8 L627.9,645.4 L618.7,645.8 Z" fill="#000" stroke-width="2.4"/>
<path d="M120,811 L121,829" stroke-width="4"/>
<path d="M566.6,334.8 C571,327 577,317 579.6,308 C581.5,301 580,296 575.5,295.2 C571.5,294.8 568,297.5 565,301.5" stroke-width="3.9"/>
<path d="M560.6,318.6 L561.4,301.5 L568.6,304.6 Z" fill="#000" stroke-width="2.4"/>
<path d="M558.1,406.6 C556.5,415 555.5,428 555.8,435 C556,441 557.5,444 559.6,444 C562,444 564,441 565,436 C566.5,428 566.8,418 566.7,412" stroke-width="3.9"/>
<path d="M566.5,419 L562,434 L570,433 Z" fill="#000" stroke-width="2.8"/>
<path d="M773,362.9 C780,364.6 790,364.6 797,362 C803,359.5 805.5,353 804.3,348.8 C803,345.5 800,345 796.5,346" stroke-width="3.8"/>
<path d="M775,352 L790.5,344 L795,349.5 L781,353.5 Z" fill="#000" stroke-width="2.4"/>
<ellipse cx="877" cy="869" rx="1.2" ry="3.6" fill="#000" stroke="none"/>
<ellipse cx="1026" cy="724" rx="1.6" ry="1.0" fill="#000" stroke="none"/>
<ellipse cx="58" cy="75" rx="0.6" ry="0.6" fill="#000" stroke="none"/>
<ellipse cx="150" cy="251.5" rx="0.8" ry="0.8" fill="#000" stroke="none"/>
<ellipse cx="341" cy="329" rx="0.8" ry="0.8" fill="#000" stroke="none"/>
<ellipse cx="364" cy="356" rx="0.6" ry="0.6" fill="#000" stroke="none"/>
<ellipse cx="454" cy="297.5" rx="0.9" ry="0.6" fill="#000" stroke="none"/>
<ellipse cx="427.5" cy="436" rx="0.6" ry="0.6" fill="#000" stroke="none"/>
<ellipse cx="150" cy="359" rx="0.6" ry="0.6" fill="#000" stroke="none"/>
<ellipse cx="64" cy="507.5" rx="0.9" ry="0.9" fill="#000" stroke="none"/>
<ellipse cx="59" cy="531" rx="0.6" ry="0.6" fill="#000" stroke="none"/>
<ellipse cx="239" cy="672.5" rx="0.5" ry="0.5" fill="#000" stroke="none"/>
<ellipse cx="355" cy="525" rx="0.6" ry="0.6" fill="#000" stroke="none"/>
<ellipse cx="369" cy="677.5" rx="0.9" ry="0.9" fill="#000" stroke="none"/>
<ellipse cx="437.5" cy="660" rx="0.6" ry="0.4" fill="#000" stroke="none"/>
<ellipse cx="712.5" cy="584" rx="0.9" ry="1.1" fill="#000" stroke="none"/>
<ellipse cx="812.5" cy="520" rx="0.7" ry="0.5" fill="#000" stroke="none"/>
<ellipse cx="319" cy="812.5" rx="0.9" ry="0.9" fill="#000" stroke="none"/>
<ellipse cx="359" cy="971" rx="0.5" ry="0.5" fill="#000" stroke="none"/>
<ellipse cx="682.5" cy="864" rx="0.5" ry="0.5" fill="#000" stroke="none"/>
<ellipse cx="870" cy="771" rx="0.7" ry="0.7" fill="#000" stroke="none"/>
<ellipse cx="636" cy="454" rx="0.9" ry="0.9" fill="#000" stroke="none"/>
</g>
<g>
<text x="88.45" y="176.87" font-size="28.03" font-weight="normal" textLength="136.96" lengthAdjust="spacingAndGlyphs" stroke="#000" stroke-width="1.3">CONTOURS</text>
<text x="242.43" y="176.87" font-size="28.03" font-weight="normal" textLength="33.86" lengthAdjust="spacingAndGlyphs" stroke="#000" stroke-width="1.3">OF</text>
<text x="293.51" y="176.87" font-size="28.03" font-weight="normal" textLength="80.89" lengthAdjust="spacingAndGlyphs" stroke="#000" stroke-width="1.3">SCORE</text>
<text x="600.42" y="248.00" font-size="29.71" font-weight="bold" textLength="13.22" lengthAdjust="spacingAndGlyphs" stroke="#000" stroke-width="1.0">4</text>
<text x="618.82" y="246.60" font-size="29.85" font-weight="bold" textLength="16.41" lengthAdjust="spacingAndGlyphs" stroke="#000" stroke-width="1.0">A</text>
<text x="518.42" y="353.50" font-size="29.86" font-weight="bold" textLength="13.22" lengthAdjust="spacingAndGlyphs" stroke="#000" stroke-width="1.0">4</text>
<text x="653.80" y="409.19" font-size="31.43" font-weight="bold" textLength="12.91" lengthAdjust="spacingAndGlyphs" stroke="#000" stroke-width="1.0">5</text>
<text x="733.25" y="419.20" font-size="30.28" font-weight="bold" textLength="17.38" lengthAdjust="spacingAndGlyphs" stroke="#000" stroke-width="1.0">6</text>
<text x="766.65" y="293.99" font-size="29.26" font-weight="bold" textLength="11.84" lengthAdjust="spacingAndGlyphs" stroke="#000" stroke-width="1.0">7</text>
<text x="800.42" y="395.22" font-size="28.17" font-weight="bold" textLength="15.07" lengthAdjust="spacingAndGlyphs" stroke="#000" stroke-width="1.0">6</text>
<text x="844.82" y="396.78" font-size="27.94" font-weight="bold" textLength="16.41" lengthAdjust="spacingAndGlyphs" stroke="#000" stroke-width="1.0">A</text>
<text x="574.99" y="476.20" font-size="27.10" font-weight="bold" textLength="14.06" lengthAdjust="spacingAndGlyphs" stroke="#000" stroke-width="1.0">4</text>
<text x="594.97" y="477.30" font-size="27.97" font-weight="bold" textLength="15.75" lengthAdjust="spacingAndGlyphs" stroke="#000" stroke-width="1.0">B</text>
<text x="240.00" y="451.50" font-size="31.57" font-weight="bold" textLength="13.05" lengthAdjust="spacingAndGlyphs" stroke="#000" stroke-width="1.0">2</text>
<text x="664.10" y="714.20" font-size="30.28" font-weight="bold" textLength="11.13" lengthAdjust="spacingAndGlyphs" stroke="#000" stroke-width="1.0">3</text>
</g>
</svg>
</body></html>
